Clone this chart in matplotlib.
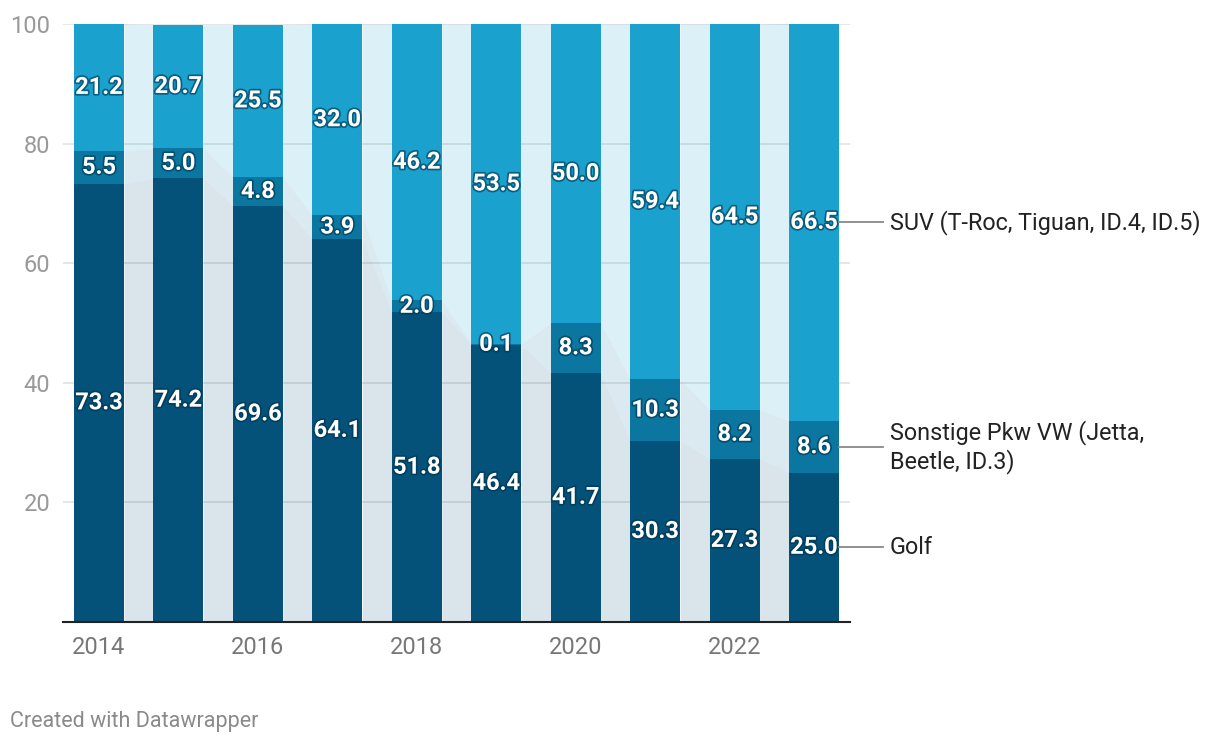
import matplotlib
matplotlib.use("Agg")
from matplotlib import pyplot as plt
from matplotlib import patheffects as pe
import numpy as np

plt.rcParams['font.family'] = ['Roboto', 'DejaVu Sans']

years = [2014, 2015, 2016, 2017, 2018, 2019, 2020, 2021, 2022, 2023]
golf = [73.3, 74.2, 69.6, 64.1, 51.8, 46.4, 41.7, 30.3, 27.3, 25.0]
sonstige = [5.5, 5.0, 4.8, 3.9, 2.0, 0.1, 8.3, 10.3, 8.2, 8.6]
suv = [21.2, 20.7, 25.5, 32.0, 46.2, 53.5, 50.0, 59.4, 64.5, 66.5]
series_names = ["Golf", "Sonstige Pkw VW (Jetta,\nBeetle, ID.3)", "SUV (T-Roc, Tiguan, ID.4, ID.5)"]
colors = ["#04527a", "#0b77a0", "#1aa1cd"]
xticks = [2014, 2016, 2018, 2020, 2022]

W, H = 1220, 746
fig = plt.figure(figsize=(W / 100, H / 100), dpi=100)
ax = fig.add_axes([63 / W, (H - 622) / H, (850 - 63) / W, (622 - 24) / H])

x = np.array(years, dtype=float)
bw = 0.63
series = [np.array(golf), np.array(sonstige), np.array(suv)]
bottoms = [np.zeros(len(x)), np.array(golf), np.array(golf) + np.array(sonstige)]

# connector areas between bars
for s, b, c in zip(series, bottoms, colors):
    for i in range(len(x) - 1):
        xs = [x[i] + bw / 2, x[i + 1] - bw / 2]
        ax.fill_between(xs, [b[i], b[i + 1]], [b[i] + s[i], b[i + 1] + s[i + 1]],
                        color=c, alpha=0.15, lw=0, zorder=1)

shadow = [pe.withStroke(linewidth=2.5, foreground="#00334d", alpha=0.6)]
for s, b, c in zip(series, bottoms, colors):
    ax.bar(x, s, bottom=b, width=bw, color=c, zorder=2)
    for xi, si, bi in zip(x, s, b):
        ax.text(xi, bi + si / 2, f"{si:.1f}", ha="center", va="center", color="white",
                fontsize=17, fontweight="bold", zorder=3, path_effects=shadow)

# right side labels
for s, b, name in zip(series, bottoms, series_names):
    yc = b[-1] + s[-1] / 2
    ax.plot([x[-1] + bw / 2, x[-1] + bw / 2 + 0.55], [yc, yc], color="#888888", lw=1.3,
            clip_on=False, zorder=3)
    ax.text(x[-1] + bw / 2 + 0.64, yc, name, ha="left", va="center", fontsize=16.8,
            color="#222222", linespacing=1.2)

ax.set_xlim(years[0] - 0.453, years[-1] + 0.453)
ax.set_ylim(0, 100)
ax.set_yticks([20, 40, 60, 80, 100])
ax.set_xticks(xticks)
ax.tick_params(axis="y", length=0, labelsize=17, labelcolor="#999999", pad=9)
ax.tick_params(axis="x", length=0, labelsize=17, labelcolor="#777777", pad=10)
ax.grid(axis="y", color="#e2e2e2", lw=1.2, zorder=0)
ax.set_axisbelow(True)
for sp in ["top", "right", "left"]:
    ax.spines[sp].set_visible(False)
ax.spines["bottom"].set_color("#222222")
ax.spines["bottom"].set_linewidth(1.5)
ax.spines["bottom"].set_zorder(4)

fig.text(10 / W, 1 - 722 / H, "Created with Datawrapper", fontsize=15.5, color="#8a8a8a",
         ha="left", va="center")

fig.savefig("out.png", dpi=100)
